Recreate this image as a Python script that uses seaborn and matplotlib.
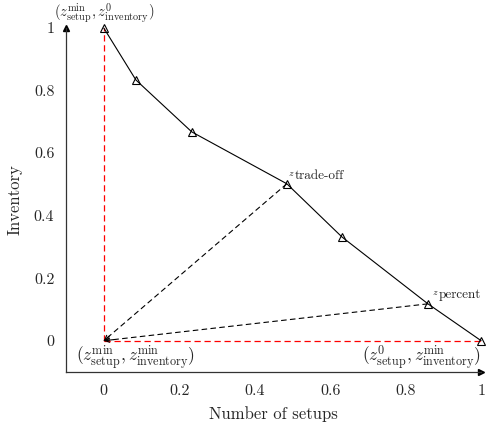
import matplotlib
matplotlib.use("Agg")
import matplotlib.pyplot as plt
import seaborn as sns
from matplotlib.ticker import FixedLocator, FuncFormatter

# values
setups = [0.0, 0.085, 0.233, 0.485, 0.631, 0.859, 1.0]
inventory = [1.0, 0.834, 0.668, 0.502, 0.332, 0.118, 0.0]
tick_vals = [0, 0.2, 0.4, 0.6, 0.8, 1]
trade_off = (0.485, 0.502)
percent = (0.859, 0.118)
ideal = (0.0, 0.0)

sns.set_style("white")
plt.rcParams["font.family"] = ["serif"]
plt.rcParams["font.serif"] = ["cmr10", "DejaVu Serif"]
plt.rcParams["mathtext.fontset"] = "cm"
plt.rcParams["axes.formatter.use_mathtext"] = True

fig = plt.figure(figsize=(4.86, 4.22), dpi=100)
ax = fig.add_axes([0.136, 0.1185, 0.854, 0.815])

dash = (0, (5, 3))
# red dashed bounds
sns.lineplot(x=[0, 0], y=[0, 1], color="red", lw=0.9, linestyle=dash,
             estimator=None, sort=False, ax=ax)
sns.lineplot(x=[0, 1], y=[0, 0], color="red", lw=0.9, linestyle=dash,
             estimator=None, sort=False, ax=ax)

# dashed arrows towards ideal point
for p in [trade_off, percent]:
    sns.lineplot(x=[p[0], ideal[0]], y=[p[1], ideal[1]], color="black", lw=0.8,
                 linestyle=dash, estimator=None, sort=False, ax=ax)
    dx, dy = p[0] - ideal[0], p[1] - ideal[1]
    ax.annotate("", xy=ideal, xytext=(ideal[0] + dx * 0.03, ideal[1] + dy * 0.03),
                arrowprops=dict(arrowstyle="->", color="black", lw=0.8,
                                shrinkA=0, shrinkB=0, mutation_scale=8))

# pareto front
sns.lineplot(x=setups, y=inventory, color="black", lw=0.8, marker="^",
             markersize=6, markerfacecolor="none", markeredgecolor="black",
             markeredgewidth=0.8, clip_on=False, estimator=None, sort=False, ax=ax)

ax.set_xlim(-0.1, 1.0)
ax.set_ylim(-0.1, 1.0)
ax.xaxis.set_major_locator(FixedLocator(tick_vals))
ax.yaxis.set_major_locator(FixedLocator(tick_vals))
fmt = FuncFormatter(lambda v, pos: "%g" % v)
ax.xaxis.set_major_formatter(fmt)
ax.yaxis.set_major_formatter(fmt)
ax.tick_params(direction="inout", length=7, width=0.8, color="#999999",
               labelsize=11.5, pad=5)

for s in ["top", "right"]:
    ax.spines[s].set_visible(False)
for s in ["left", "bottom"]:
    ax.spines[s].set_linewidth(0.9)
    ax.spines[s].set_color("#333333")
ax.plot(1, 0, ">", color="black", markersize=4, transform=ax.transAxes, clip_on=False)
ax.plot(0, 1, "^", color="black", markersize=4, transform=ax.transAxes, clip_on=False)

ax.set_xlabel("Number of setups", fontsize=12, labelpad=6)
ax.set_ylabel("Inventory", fontsize=12, labelpad=8)

ax.annotate(r"$(z^{\min}_{\mathrm{setup}},z^{0}_{\mathrm{inventory}})$", xy=(0, 1),
            xytext=(0, 2), textcoords="offset points", ha="center", va="bottom",
            fontsize=10.5, annotation_clip=False)
ax.annotate(r"$(z^{\min}_{\mathrm{setup}},z^{\min}_{\mathrm{inventory}})$", xy=(0, 0),
            xytext=(-20, -2), textcoords="offset points", ha="left", va="top",
            fontsize=12.5)
ax.annotate(r"$(z^{0}_{\mathrm{setup}},z^{\min}_{\mathrm{inventory}})$", xy=(1, 0),
            xytext=(0, -2), textcoords="offset points", ha="right", va="top",
            fontsize=12.5, annotation_clip=False)

# small z with larger roman subscript, as in the reference
for p, name, off in [(trade_off, "trade-off", (1, 4)), (percent, "percent", (3, 5))]:
    ax.annotate(r"$z$", xy=p, xytext=off, textcoords="offset points",
                ha="left", va="bottom", fontsize=7)
    ax.annotate(name, xy=p, xytext=(off[0] + 4.8, off[1] - 2.8),
                textcoords="offset points", ha="left", va="bottom", fontsize=9.5,
                annotation_clip=False)

fig.savefig("out.png", dpi=100)
